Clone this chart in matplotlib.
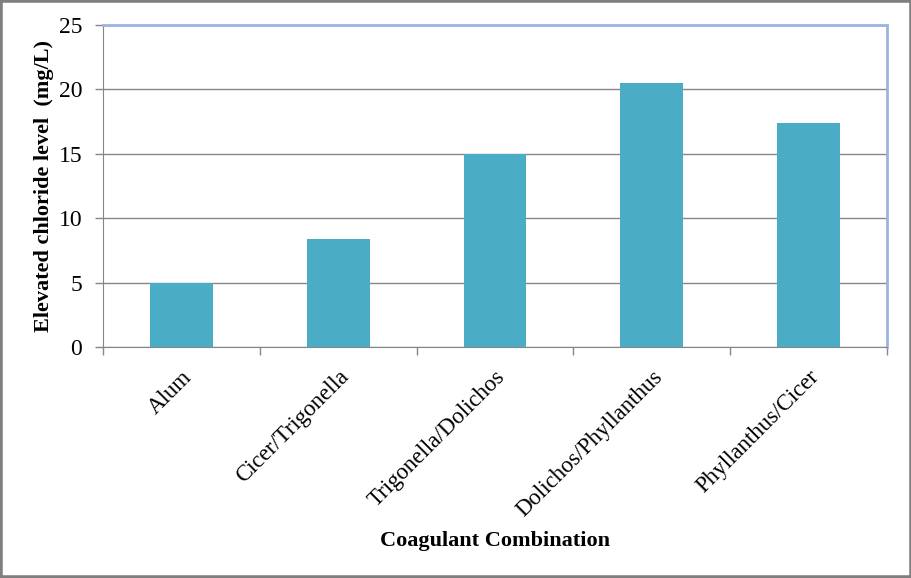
import matplotlib.pyplot as plt
import matplotlib.patches as mpatches
import numpy as np

plt.rcParams['font.family'] = ['Liberation Serif', 'DejaVu Serif']

# data
categories = ['Alum', 'Cicer/Trigonella', 'Trigonella/Dolichos',
              'Dolichos/Phyllanthus', 'Phyllanthus/Cicer']
chloride = [5.0, 8.4, 15.0, 20.5, 17.4]
y_ticks = [0, 5, 10, 15, 20, 25]

bar_color = '#4BACC6'
grid_color = '#868686'
frame_color = '#9DB3E0'

fig = plt.figure(figsize=(9.12, 5.78), dpi=100)
ax = fig.add_axes([103 / 912, 1 - 347 / 578, 784 / 912, 322 / 578])

x = np.arange(len(categories))
ax.bar(x, chloride, width=0.4, color=bar_color, zorder=3)

ax.set_xlim(-0.5, len(categories) - 0.5)
ax.set_ylim(0, 25)
ax.set_yticks(y_ticks)
ax.set_yticklabels([str(v) for v in y_ticks], fontsize=17)
ax.yaxis.grid(True, color=grid_color, linewidth=1, zorder=0)

# category labels centred, tick marks on category boundaries
ax.set_xticks(x)
ax.set_xticklabels(categories, fontsize=16.5, rotation=45, ha='right',
                   va='top', rotation_mode='anchor')
ax.tick_params(axis='x', length=0, pad=14)
ax.set_xticks(np.arange(-0.5, len(categories)), minor=True)
ax.tick_params(axis='x', which='minor', length=6, color=grid_color, width=1)
ax.tick_params(axis='y', length=6, color=grid_color, width=1, pad=9)

ax.spines['left'].set_color(grid_color)
ax.spines['bottom'].set_color(grid_color)
ax.spines['top'].set_color(frame_color)
ax.spines['right'].set_color(frame_color)
ax.spines['top'].set_linewidth(2)
ax.spines['right'].set_linewidth(2)

ax.set_ylabel('Elevated chloride level  (mg/L)', fontsize=16, fontweight='bold')
ax.yaxis.set_label_coords(-0.062, 0.5)
ax.set_xlabel('Coagulant Combination', fontsize=16, fontweight='bold')
ax.xaxis.set_label_coords(0.5, -0.57)

# grey outer frame of the picture
fig.patches.append(mpatches.Rectangle((0, 0), 1, 1, transform=fig.transFigure,
                                      fill=False, edgecolor='#7F7F7F',
                                      linewidth=4, zorder=10))

plt.savefig('out.png', dpi=100)
